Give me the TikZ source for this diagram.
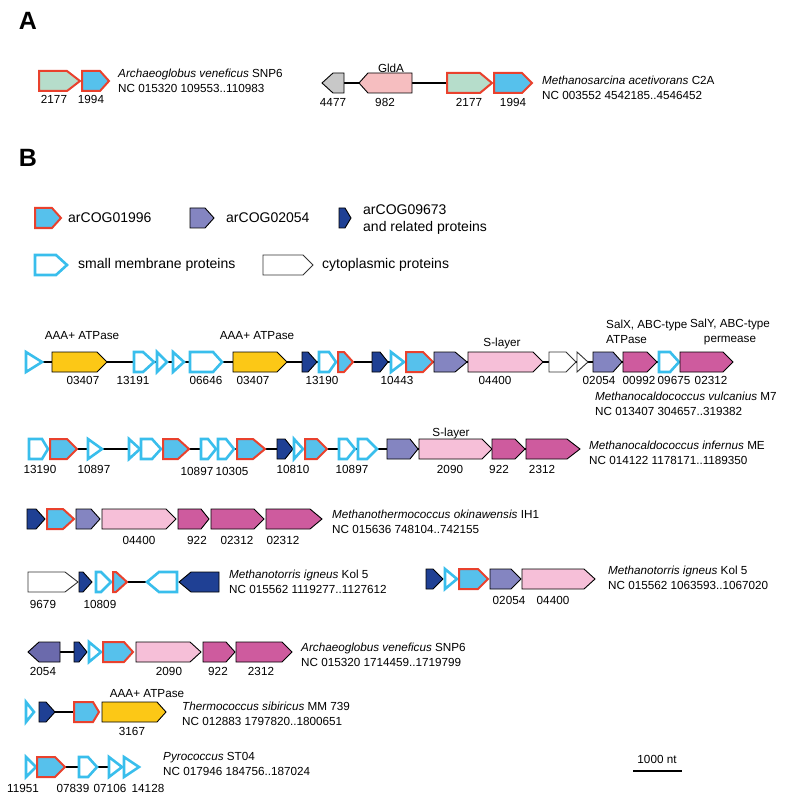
\documentclass[tikz,border=0pt]{standalone}
\usepackage{fontspec}
\setmainfont{Liberation Sans}
\definecolor{memblue}{RGB}{57,190,236}
\definecolor{arred}{RGB}{233,65,45}
\definecolor{arblue}{RGB}{86,193,236}
\definecolor{argreen}{RGB}{182,221,203}
\definecolor{greyg}{RGB}{200,200,200}
\definecolor{gldpink}{RGB}{246,190,192}
\definecolor{purp}{RGB}{132,133,193}
\definecolor{purpdk}{RGB}{107,106,172}
\definecolor{dkblue}{RGB}{31,64,148}
\definecolor{yel}{RGB}{252,200,22}
\definecolor{slpink}{RGB}{246,191,216}
\definecolor{mag}{RGB}{206,91,158}
\tikzset{
  mem/.style={draw=memblue,line width=2.6pt,fill=white},
  cyt/.style={draw=black!80,line width=0.9pt,fill=white},
  cogr/.style={draw=arred,line width=2pt,fill=arblue},
  cogg/.style={draw=arred,line width=2pt,fill=argreen},
  cogp/.style={draw=black,line width=0.9pt,fill=purp},
  cogpd/.style={draw=black,line width=0.9pt,fill=purpdk},
  cogd/.style={draw=black,line width=0.9pt,fill=dkblue},
  atp/.style={draw=black,line width=0.9pt,fill=yel},
  slay/.style={draw=black,line width=0.9pt,fill=slpink},
  abc/.style={draw=black,line width=0.9pt,fill=mag},
  grey/.style={draw=black,line width=0.9pt,fill=greyg},
  gld/.style={draw=black,line width=0.9pt,fill=gldpink},
  bb/.style={line width=2.2pt},
  lbl/.style={inner sep=0pt,text height=8.5pt,text depth=0pt},
  sp/.style={anchor=west,align=left,inner sep=0pt},
  leg/.style={anchor=west,align=left,inner sep=0pt,font=\fontsize{14}{17}\selectfont},
}
\begin{document}
\begin{tikzpicture}[x=1pt,y=-1pt,line join=miter,font=\fontsize{11.7}{14.5}\selectfont]
  \useasboundingbox (0,0) rectangle (786,802);
  \def\hh{10}
  % gen: (dau, bat dau mui, dinh) kieu
  \def\gene(#1,#2,#3)#4{\draw[#4] (#1,\ry-\hh) -- (#2,\ry-\hh) -- (#3,\ry) -- (#2,\ry+\hh) -- (#1,\ry+\hh) -- cycle;}
  \def\tri(#1,#2)#3{\draw[#3] (#1,\ry-\hh) -- (#2,\ry) -- (#1,\ry+\hh) -- cycle;}
  \node[font=\fontsize{25}{30}\selectfont\bfseries] (pA) at (28,21) {A};
  \node[font=\fontsize{25}{30}\selectfont\bfseries] (pB) at (28,158) {B};
  %% A
  \def\ry{81}
  \gene(39,67,80){cogg}
  \gene(82,100,109){cogr}
  \node[lbl] (a1) at (54,99) {2177};
  \node[lbl] (a2) at (91,99) {1994};
  \node[sp] (spA1) at (118,81) {\textit{Archaeoglobus veneficus} SNP6\\NC 015320 109553..110983};
  \def\ry{83}
  \draw[bb] (333,\ry) -- (492,\ry);
  \gene(344,333,322){grey}
  \gene(412,368,359){gld}
  \gene(447,480,492){cogg}
  \gene(494,522,532){cogr}
  \node[lbl] (a3) at (333,102) {4477};
  \node[lbl] (a4) at (385,102) {982};
  \node[lbl] (a5) at (469,102) {2177};
  \node[lbl] (a6) at (513,102) {1994};
  \node[lbl] (a7) at (391,68) {GldA};
  \node[sp] (spA2) at (542,88) {\textit{Methanosarcina acetivorans} C2A\\NC 003552 4542185..4546452};
  %% chu thich
  \def\ry{218}
  \gene(35,52,61){cogr}
  \gene(190,205,214){cogp}
  \gene(339,345,351){cogd}
  \node[leg] (g1) at (68,\ry) {arCOG01996};
  \node[leg] (g2) at (226,\ry) {arCOG02054};
  \node[leg] (g3) at (363,220) {arCOG09673\\and related proteins};
  \def\ry{265}
  \gene(35,56,67){mem}
  \gene(263,303,313){cyt}
  \node[leg] (g4) at (78,\ry) {small membrane proteins};
  \node[leg] (g5) at (322,\ry) {cytoplasmic proteins};
  %% B hang 1
  \def\ry{362}
  \draw[bb] (25,\ry) -- (733,\ry);
  \tri(26,42){mem}
  \gene(52,97,107){atp}
  \gene(134,143,154){mem}
  \tri(157,167){mem}
  \tri(173,184){mem}
  \gene(190,213,222){mem}
  \gene(233,277,287){atp}
  \gene(302,308,317){cogd}
  \gene(319,329,336){mem}
  \gene(338,344,353){cogr}
  \gene(372,380,388){cogd}
  \tri(391,404){mem}
  \gene(406,423,433){cogr}
  \gene(434,455,467){cogp}
  \gene(468,533,543){slay}
  \gene(549,566,576){cyt}
  \tri(577,588){cyt}
  \gene(593,613,622){cogp}
  \gene(623,647,657){abc}
  \gene(659,670,679){mem}
  \gene(680,723,733){abc}
  \node[lbl] (b1) at (83,380) {03407};
  \node[lbl] (b2) at (133,380) {13191};
  \node[lbl] (b3) at (206,380) {06646};
  \node[lbl] (b4) at (253,380) {03407};
  \node[lbl] (b5) at (322,380) {13190};
  \node[lbl] (b6) at (397,380) {10443};
  \node[lbl] (b7) at (495,380) {04400};
  \node[lbl] (b8) at (599,380) {02054};
  \node[lbl] (b9) at (639,380) {00992};
  \node[lbl] (b10) at (674,380) {09675};
  \node[lbl] (b11) at (711,380) {02312};
  \node[lbl] (b12) at (82,335) {AAA+ ATPase};
  \node[lbl] (b13) at (257,335) {AAA+ ATPase};
  \node[lbl] (b14) at (502,342) {S-layer};
  \node[sp] (b15) at (606,332) {SalX, ABC-type\\ATPase};
  \node[inner sep=0pt,align=center] (b16) at (730,332) {SalY, ABC-type\\permease};
  \node[sp] (sp1) at (595,404) {\textit{Methanocaldococcus vulcanius} M7\\NC 013407 304657..319382};
  %% hang 2
  \def\ry{449}
  \draw[bb] (28,\ry) -- (580,\ry);
  \gene(29,42,48){mem}
  \gene(50,67,77){cogr}
  \tri(88,102){mem}
  \tri(129,140){mem}
  \gene(141,152,161){mem}
  \gene(163,178,189){cogr}
  \gene(201,208,216){mem}
  \gene(218,226,234){mem}
  \gene(237,253,265){cogr}
  \gene(277,285,293){cogd}
  \tri(294,303){mem}
  \gene(305,317,327){cogr}
  \gene(339,347,355){mem}
  \gene(358,367,377){mem}
  \gene(387,410,418){cogp}
  \gene(419,482,492){slay}
  \gene(492,515,525){abc}
  \gene(526,567,580){abc}
  \node[lbl] (c1) at (40,469) {13190};
  \node[lbl] (c2) at (94,469) {10897};
  \node[lbl] (c3) at (197,471) {10897};
  \node[lbl] (c4) at (232,471) {10305};
  \node[lbl] (c5) at (293,469) {10810};
  \node[lbl] (c6) at (352,469) {10897};
  \node[lbl] (c7) at (450,469) {2090};
  \node[lbl] (c8) at (499,469) {922};
  \node[lbl] (c9) at (542,469) {2312};
  \node[lbl] (c10) at (451,432) {S-layer};
  \node[sp] (sp2) at (589,453) {\textit{Methanocaldococcus infernus} ME\\NC 014122 1178171..1189350};
  %% hang 3
  \def\ry{519}
  \gene(27,36,45){cogd}
  \gene(47,63,74){cogr}
  \gene(76,91,100){cogp}
  \gene(102,166,176){slay}
  \gene(178,201,209){abc}
  \gene(211,254,264){abc}
  \gene(266,310,322){abc}
  \node[lbl] (d1) at (139,540) {04400};
  \node[lbl] (d2) at (197,540) {922};
  \node[lbl] (d3) at (237,540) {02312};
  \node[lbl] (d4) at (283,540) {02312};
  \node[sp] (sp3) at (332,522) {\textit{Methanothermococcus okinawensis} IH1\\NC 015636 748104..742155};
  %% hang 4
  \def\ry{582}
  \draw[bb] (127,\ry) -- (146,\ry);
  \gene(28,65,78){cyt}
  \gene(79,83,92){cogd}
  \gene(96,101,111){mem}
  \gene(113,116,127){cogr}
  \gene(177,159,147){mem}
  \gene(219,191,179){cogd}
  \node[lbl] (e1) at (43,604) {9679};
  \node[lbl] (e2) at (100,604) {10809};
  \node[sp] (sp4) at (229,582) {\textit{Methanotorris igneus} Kol 5\\NC 015562 1119277..1127612};
  \def\ry{579}
  \gene(426,433,443){cogd}
  \tri(445,457){mem}
  \gene(459,478,488){cogr}
  \gene(490,511,521){cogp}
  \gene(522,584,595){slay}
  \node[lbl] (e3) at (509,600) {02054};
  \node[lbl] (e4) at (553,600) {04400};
  \node[sp] (sp5) at (608,578) {\textit{Methanotorris igneus} Kol 5\\NC 015562 1063593..1067020};
  %% hang 5
  \def\ry{652}
  \draw[bb] (60,\ry) -- (74,\ry);
  \gene(60,39,28){cogpd}
  \gene(74,79,87){cogd}
  \tri(89,101){mem}
  \gene(103,124,133){cogr}
  \gene(136,190,201){slay}
  \gene(203,226,235){abc}
  \gene(236,282,292){abc}
  \node[lbl] (f1) at (43,671) {2054};
  \node[lbl] (f2) at (169,671) {2090};
  \node[lbl] (f3) at (218,671) {922};
  \node[lbl] (f4) at (261,671) {2312};
  \node[sp] (sp6) at (301,655) {\textit{Archaeoglobus veneficus} SNP6\\NC 015320 1714459..1719799};
  %% hang 6
  \def\ry{712}
  \draw[bb] (55,\ry) -- (73,\ry);
  \tri(26,34){mem}
  \gene(39,46,55){cogd}
  \gene(74,93,99){cogr}
  \gene(102,157,166){atp}
  \node[lbl] (h1) at (132,731) {3167};
  \node[lbl] (h2) at (147,693) {AAA+ ATPase};
  \node[sp] (sp7) at (182,714) {\textit{Thermococcus sibiricus} MM 739\\NC 012883 1797820..1800651};
  %% hang 7
  \def\ry{767}
  \draw[bb] (65,\ry) -- (108,\ry);
  \tri(26,36){mem}
  \gene(37,55,65){cogr}
  \gene(79,88,97){mem}
  \tri(109,122){mem}
  \tri(124,139){mem}
  \node[lbl] (k1) at (23,788) {11951};
  \node[lbl] (k2) at (73,788) {07839};
  \node[lbl] (k3) at (110,788) {07106};
  \node[lbl] (k4) at (148,788) {14128};
  \node[sp] (sp8) at (163,764) {\textit{Pyrococcus} ST04\\NC 017946 184756..187024};
  %% thuoc do
  \coordinate (s1) at (633,771);
  \coordinate (s2) at (682,771);
  \draw[bb] (s1) -- (s2);
  \node[lbl] (sc) at (657,759) {1000 nt};
\end{tikzpicture}
\end{document}
